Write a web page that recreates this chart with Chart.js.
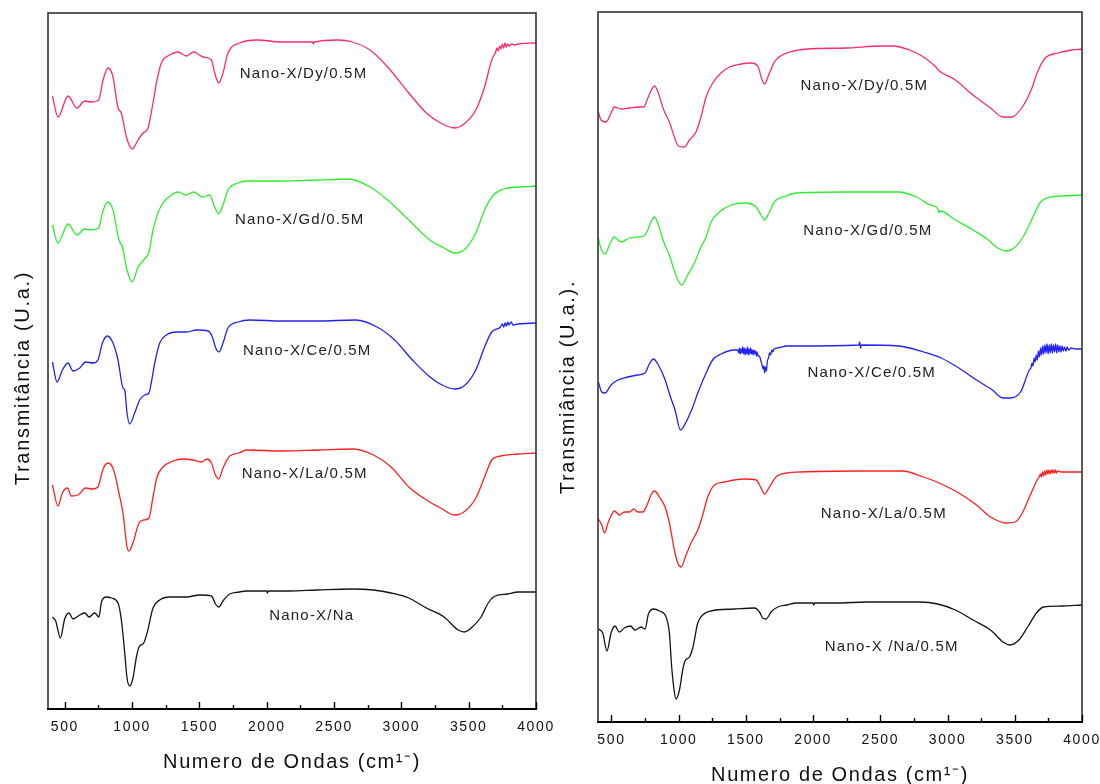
<!DOCTYPE html>
<html>
<head>
<meta charset="utf-8">
<script src="https://cdn.jsdelivr.net/npm/chart.js@4.4.1/dist/chart.umd.min.js"></script>
<style>
  html, body { margin: 0; padding: 0; background: #fff; overflow: hidden; }
  #wrap { position: relative; width: 1100px; height: 784px; }
  #left { position: absolute; left: 0; top: 0; }
  #right { position: absolute; left: 550px; top: 0; }
</style>
</head>
<body>
<div id="wrap">
  <canvas id="left" width="560" height="800"></canvas>
  <canvas id="right" width="550" height="800"></canvas>
</div>
<script>
// axis ticks (wavenumber, cm-1)
const majorTicks = [500, 1000, 1500, 2000, 2500, 3000, 3500, 4000];
const minorTicks = [750, 1250, 1750, 2250, 2750, 3250, 3750];
const seriesColors = ["#ff2a6c", "#2cf02c", "#2222f5", "#ff2020", "#141414"];

// left panel spectra: [wavenumber, transmittance (a.u.)]
const leftDy = [[408,613],[449,592],[524,613],[590,601],[648,608],[697,607],[752,609],[784,629],[821,641],[858,632],[895,601],[920,596],[957,572],[1002,560],[1044,569],[1081,576],[1118,581],[1155,606],[1180,626],[1217,646],[1279,654],[1341,657],[1403,653],[1457,657],[1527,652],[1589,649],[1613,636],[1643,626],[1675,636],[1712,656],[1799,666],[1928,669],[2112,667],[2340,667],[2347,665],[2354,667],[2531,669],[2636,667],[2767,659],[2898,642],[3055,616],[3186,596],[3291,586],[3396,581],[3474,586],[3553,599],[3618,622],[3671,649],[3700,657],[3710,661],[3720,658],[3730,663],[3740,660],[3750,665],[3760,661],[3770,666],[3780,662],[3790,665],[3800,663],[3820,665],[3840,664],[3867,665],[4000,666]];
const leftGd = [[408,484],[449,466],[524,485],[590,474],[648,480],[697,479],[752,481],[779,496],[816,507],[858,499],[902,469],[928,462],[962,439],[1002,427],[1044,442],[1086,449],[1125,457],[1155,479],[1192,496],[1229,506],[1292,514],[1341,517],[1398,514],[1457,517],[1522,512],[1576,514],[1613,502],[1643,495],[1675,504],[1712,519],[1787,526],[1850,528],[2112,528],[2374,529],[2609,530],[2767,522],[2898,509],[3055,489],[3212,469],[3317,461],[3396,456],[3474,460],[3553,476],[3618,499],[3684,514],[3762,520],[3867,522],[4000,523]];
const leftCe = [[408,347],[442,327],[482,339],[524,346],[561,338],[611,341],[655,347],[709,346],[746,349],[779,366],[816,373],[858,366],[895,349],[932,321],[945,319],[962,296],[982,285],[1019,296],[1056,309],[1093,314],[1125,316],[1143,327],[1168,346],[1205,366],[1255,374],[1329,377],[1403,377],[1477,379],[1564,378],[1596,372],[1621,361],[1645,357],[1675,366],[1712,381],[1787,387],[1876,389],[2112,388],[2374,388],[2662,389],[2819,382],[2950,369],[3082,349],[3212,332],[3317,323],[3396,320],[3474,324],[3553,339],[3618,362],[3671,377],[3736,382],[3750,385],[3760,382],[3770,386],[3780,383],[3790,387],[3800,384],[3815,387],[3830,384],[3867,385],[4000,386]];
const leftLa = [[408,224],[449,203],[482,216],[519,221],[549,213],[598,214],[655,221],[705,220],[746,222],[784,240],[821,246],[863,239],[902,216],[932,196],[962,162],[977,158],[1006,166],[1051,186],[1086,189],[1125,191],[1155,212],[1185,232],[1229,242],[1304,248],[1378,250],[1452,249],[1515,247],[1556,250],[1589,246],[1619,234],[1643,230],[1675,241],[1725,253],[1794,256],[1850,259],[2112,258],[2374,259],[2636,260],[2793,254],[2924,242],[3055,222],[3186,209],[3291,201],[3396,194],[3474,198],[3553,211],[3618,232],[3671,249],[3736,253],[3867,255],[4000,256]];
const leftNa = [[408,92],[432,88],[467,71],[499,90],[531,96],[561,90],[611,94],[648,96],[680,92],[722,96],[754,92],[772,107],[809,112],[846,111],[895,106],[920,89],[945,56],[962,31],[982,23],[1006,31],[1032,52],[1051,62],[1086,66],[1111,76],[1155,101],[1205,109],[1279,112],[1403,112],[1502,114],[1589,113],[1619,105],[1643,102],[1680,109],[1725,115],[1794,117],[1850,118],[2000,118],[2005,116],[2012,118],[2164,118],[2374,119],[2636,120],[2793,119],[2924,116],[3055,111],[3186,101],[3317,92],[3422,79],[3469,77],[3527,82],[3592,92],[3645,106],[3697,113],[3789,115],[3867,117],[4000,117]];

// right panel spectra
const rightDy = [[403,610],[422,602],[460,600],[497,609],[522,615],[571,613],[634,614],[695,615],[740,615],[765,622],[790,630],[820,636],[849,629],[889,612],[931,600],[968,585],[998,576],[1043,575],[1080,582],[1129,590],[1166,605],[1204,625],[1253,639],[1315,649],[1378,655],[1464,658],[1538,659],[1593,655],[1613,645],[1638,638],[1675,649],[1712,660],[1746,665],[1825,670],[1956,673],[2244,674],[2507,676],[2599,676],[2717,672],[2822,665],[2913,655],[2939,651],[3058,642],[3189,627],[3320,614],[3412,605],[3477,605],[3556,615],[3622,632],[3675,652],[3727,664],[3819,669],[3924,672],[4000,673]];
const rightGd = [[403,484],[418,475],[452,468],[492,479],[522,485],[571,480],[634,484],[690,485],[740,486],[770,492],[794,500],[820,505],[849,497],[889,480],[931,467],[973,449],[1023,437],[1067,447],[1117,459],[1166,475],[1204,485],[1241,500],[1303,510],[1390,517],[1489,519],[1576,515],[1613,507],[1638,502],[1675,510],[1712,520],[1799,526],[1877,529],[2244,530],[2638,530],[2769,525],[2874,517],[2930,513],[2935,509],[2945,511],[3058,502],[3189,492],[3294,483],[3373,474],[3438,471],[3503,475],[3570,487],[3635,505],[3687,519],[3740,524],[3845,526],[4000,527]];
const rightCe = [[403,340],[428,330],[452,329],[497,337],[547,342],[621,345],[695,347],[750,349],[782,358],[812,363],[849,357],[894,344],[939,325],[973,312],[1013,292],[1055,300],[1105,315],[1142,329],[1204,349],[1253,362],[1315,368],[1415,372],[1440,372],[1446,369],[1452,374],[1458,368],[1464,373],[1470,369],[1476,375],[1482,368],[1488,374],[1494,367],[1500,373],[1506,368],[1512,375],[1518,367],[1524,373],[1530,368],[1536,374],[1542,368],[1548,372],[1554,367],[1560,372],[1566,368],[1572,371],[1578,366],[1584,370],[1590,366],[1600,366],[1612,361],[1620,357],[1628,353],[1634,356],[1640,349],[1646,355],[1652,351],[1660,361],[1668,364],[1676,369],[1684,367],[1692,372],[1700,370],[1710,373],[1737,374],[1806,376],[1877,376],[2340,377],[2347,380],[2352,374],[2360,377],[2638,376],[2822,370],[2953,364],[3084,354],[3215,342],[3333,332],[3412,324],[3465,324],[3543,330],[3608,352],[3620,354],[3628,359],[3636,356],[3644,364],[3652,360],[3660,367],[3668,362],[3676,371],[3684,365],[3692,374],[3700,367],[3708,376],[3716,368],[3724,377],[3732,369],[3740,378],[3748,368],[3756,377],[3764,369],[3772,378],[3780,369],[3788,377],[3796,370],[3804,378],[3812,369],[3820,377],[3828,370],[3836,376],[3844,370],[3852,376],[3860,371],[3870,375],[3880,371],[3890,375],[3900,372],[3920,374],[3950,373],[4000,373]];
const rightLa = [[403,203],[428,197],[448,189],[477,200],[522,211],[559,207],[596,210],[634,210],[666,213],[695,210],[733,210],[765,217],[794,227],[820,231],[857,225],[899,215],[931,199],[968,172],[993,159],[1018,155],[1055,167],[1092,179],[1142,192],[1179,207],[1216,225],[1266,237],[1340,240],[1415,242],[1489,243],[1576,242],[1613,234],[1638,228],[1675,235],[1724,245],[1806,249],[1904,250],[2349,251],[2664,251],[2822,245],[2953,238],[3084,229],[3215,217],[3320,205],[3438,199],[3503,200],[3556,209],[3622,229],[3675,244],[3682,245],[3690,248],[3698,245],[3706,250],[3714,246],[3722,251],[3730,247],[3738,252],[3746,248],[3754,252],[3762,248],[3770,252],[3778,249],[3786,252],[3794,249],[3802,252],[3810,249],[3820,251],[3845,250],[4000,250]];
const rightNa = [[403,93],[435,89],[467,71],[497,89],[526,96],[559,90],[596,94],[641,96],[675,92],[720,95],[750,93],[775,108],[814,113],[857,111],[906,105],[931,89],[948,55],[968,30],[980,23],[1006,32],[1030,52],[1047,61],[1080,65],[1105,74],[1142,99],[1179,107],[1241,111],[1415,113],[1564,114],[1601,110],[1625,104],[1650,103],[1687,110],[1737,115],[1806,117],[1877,119],[2000,119],[2005,117],[2012,119],[2166,119],[2401,120],[2795,120],[2927,118],[3058,112],[3189,102],[3320,92],[3412,80],[3465,77],[3530,82],[3596,95],[3661,109],[3714,115],[3845,116],[4000,117]];

// curve labels, anchored in data coordinates
const leftLabels = ["Nano-X/Dy/0.5M", "Nano-X/Gd/0.5M", "Nano-X/Ce/0.5M", "Nano-X/La/0.5M", "Nano-X/Na"];
const leftLabelX = [2273, 2245, 2301, 2282, 2334];
const leftLabelY = [635, 489, 358, 235, 93];
const rightLabels = ["Nano-X/Dy/0.5M", "Nano-X/Gd/0.5M", "Nano-X/Ce/0.5M", "Nano-X/La/0.5M", "Nano-X /Na/0.5M"];
const rightLabelX = [2381, 2407, 2436, 2526, 2585];
const rightLabelY = [636, 491, 349, 208, 75];

Chart.defaults.font.family = '"Liberation Sans", Arial, sans-serif';
Chart.defaults.color = "#111";

function makeFrame(p) {
  return {
    id: "frame",
    beforeDraw(chart) {
      chart.ctx.letterSpacing = "1.6px";
    },
    afterDatasetsDraw(chart) {
      const ctx = chart.ctx, xs = chart.scales.x, ys = chart.scales.y;
      ctx.save();
      ctx.letterSpacing = "1.2px";
      ctx.font = '15px "Liberation Sans", Arial, sans-serif';
      ctx.fillStyle = "#222";
      ctx.textAlign = "center";
      ctx.textBaseline = "middle";
      p.labels.forEach((t, i) => {
        ctx.fillText(t, xs.getPixelForValue(p.labelX[i]), ys.getPixelForValue(p.labelY[i]));
      });
      ctx.restore();
    },
    afterDraw(chart) {
      const ctx = chart.ctx, a = chart.chartArea, xs = chart.scales.x;
      ctx.save();
      ctx.strokeStyle = "#333";
      ctx.lineWidth = 1.6;
      ctx.strokeRect(a.left, a.top, a.right - a.left, a.bottom - a.top);
      ctx.strokeStyle = "#000";
      ctx.lineWidth = 2;
      ctx.beginPath();
      ctx.moveTo(a.left - 1, a.bottom);
      ctx.lineTo(a.right + 1, a.bottom);
      ctx.stroke();
      ctx.lineWidth = 1.4;
      ctx.beginPath();
      majorTicks.forEach(v => {
        const x = Math.round(xs.getPixelForValue(v)) + 0.5;
        ctx.moveTo(x, a.bottom);
        ctx.lineTo(x, a.bottom - 7);
      });
      minorTicks.forEach(v => {
        const x = Math.round(xs.getPixelForValue(v)) + 0.5;
        ctx.moveTo(x, a.bottom);
        ctx.lineTo(x, a.bottom - 4);
      });
      ctx.stroke();
      // y axis title
      ctx.translate(a.left + p.yTitleDx, (a.top + a.bottom) / 2 + p.yTitleDy);
      ctx.rotate(-Math.PI / 2);
      ctx.letterSpacing = "1.7px";
      ctx.font = '20px "Liberation Sans", Arial, sans-serif';
      ctx.fillStyle = "#111";
      ctx.textAlign = "center";
      ctx.textBaseline = "middle";
      ctx.fillText(p.yTitle, 0, 0);
      ctx.restore();
    }
  };
}

function makePanel(p) {
  const names = ["Dy", "Gd", "Ce", "La", "Na"];
  return new Chart(document.getElementById(p.id), {
    type: "line",
    data: {
      datasets: p.series.map((s, i) => ({
        label: names[i],
        data: s.map(([x, y]) => ({ x, y })),
        borderColor: seriesColors[i],
        borderWidth: 1.3,
        pointRadius: 0,
        cubicInterpolationMode: "monotone",
        fill: false
      }))
    },
    options: {
      responsive: false,
      animation: false,
      devicePixelRatio: 1,
      layout: { padding: p.padding },
      plugins: { legend: { display: false }, tooltip: { enabled: false } },
      scales: {
        x: {
          type: "linear",
          min: p.xMin,
          max: 4000,
          afterBuildTicks(scale) { scale.ticks = majorTicks.map(v => ({ value: v })); },
          afterFit(scale) {
            scale.height = p.axisHeight;
            scale.paddingLeft = 0;
            scale.paddingRight = 0;
          },
          grid: { display: false, drawTicks: false },
          border: { display: false },
          ticks: {
            font: { size: 14 },
            color: "#111",
            padding: 10,
            maxRotation: 0,
            autoSkip: false,
            callback: v => String(v)
          },
          title: {
            display: true,
            text: "Numero de Ondas (cm¹⁻)",
            font: { size: 20 },
            color: "#111",
            padding: { top: 0, bottom: p.titlePad }
          }
        },
        y: { display: false, min: 0, max: p.yMax }
      }
    },
    plugins: [makeFrame(p)]
  });
}

makePanel({
  id: "left",
  series: [leftDy, leftGd, leftCe, leftLa, leftNa],
  xMin: 375, yMax: 696,
  padding: { left: 48, top: 13, right: 24, bottom: 0 },
  axisHeight: 91, titlePad: 26,
  labels: leftLabels, labelX: leftLabelX, labelY: leftLabelY,
  yTitle: "Transmitância (U.a.)", yTitleDx: -25, yTitleDy: 17
});

makePanel({
  id: "right",
  series: [rightDy, rightGd, rightCe, rightLa, rightNa],
  xMin: 400, yMax: 710,
  padding: { left: 48, top: 12, right: 18, bottom: 0 },
  axisHeight: 78, titlePad: 13,
  labels: rightLabels, labelX: rightLabelX, labelY: rightLabelY,
  yTitle: "Transmiância (U.a.).", yTitleDx: -30, yTitleDy: 20
});
</script>
</body>
</html>
